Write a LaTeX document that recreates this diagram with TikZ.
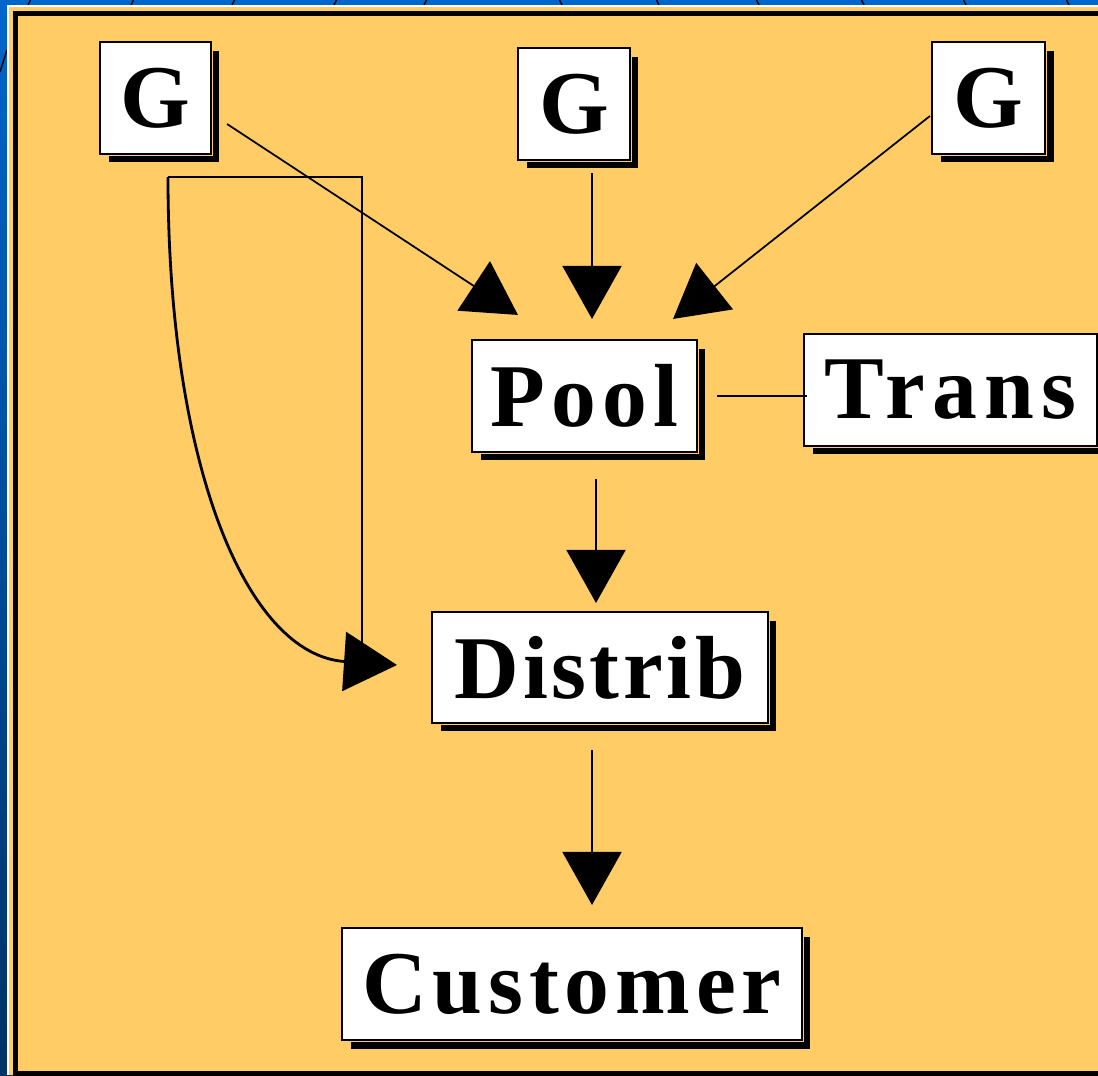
\documentclass[tikz,border=0pt]{standalone}
\usepackage{fontspec}
\setmainfont{Liberation Serif}
\usetikzlibrary{arrows.meta,shadows,calc}
\definecolor{panel}{HTML}{FFCC66}
\definecolor{slideblue}{HTML}{0066CC}
\definecolor{slidedark}{HTML}{003366}

\begin{document}
\begin{tikzpicture}[x=0.02cm, y=-0.02cm,
    box/.style={draw=black, line width=1.2pt, fill=white, inner sep=0pt,
        drop shadow={shadow xshift=0.17cm, shadow yshift=-0.17cm, fill=black, opacity=1},
        preaction={draw=panel, line width=2.4pt},
        minimum height=2.24cm, font=\fontsize{51}{60}\selectfont\bfseries},
    spaced/.style={font=\fontsize{51}{60}\selectfont\bfseries\addfontfeature{LetterSpace=#1}},
    link/.style={line width=1pt},
    arr/.style={-{Triangle[length=1.06cm, width=1.18cm]}, line width=1pt}
]
\useasboundingbox (0,0) rectangle (1098,1075);

\shade[top color=slideblue, bottom color=slidedark] (0,0) rectangle (1098,1075);
\foreach \x in {29,132,233,335,425}
    \draw[line width=0.8pt] (\x+1.5,0) -- (\x-1,5);
\foreach \x in {561,658,758,863,965,1068}
    \draw[line width=0.8pt] (\x-1.5,0) -- (\x+1,5);
\draw[line width=0.8pt] (0,72) -- (7,50);
\fill[white] (7,5) rectangle (1098,1075);
\fill[panel] (9,7) rectangle (1098,1075);
\draw[line width=0.1cm] (15.5,13.5) rectangle (1110,1073);

\node[box, minimum width=2.22cm] (g1) at (155.5,98) {G};
\node[box, minimum width=2.24cm] (g2) at (574,104) {G};
\node[box, minimum width=2.26cm] (g3) at (988.5,98) {G};
\node[box, spaced=7, minimum width=4.5cm] (pool) at (584.5,396) {Pool};
\node[box, spaced=8, minimum width=5.86cm] (trans) at (950.5,390) {Trans};
\node[box, spaced=4, minimum width=6.72cm, minimum height=2.22cm] (distrib) at (600,667.5) {Distrib};
\node[box, spaced=6.5, minimum width=9.2cm] (customer) at (572,984) {Customer};

\coordinate (split) at ($(g1.south)+(12.5,22)$);

\draw[arr] ($(g1.east)+(15,26)$) -- ($(pool.north west)+(47,-24)$);
\draw[arr] ($(g2.south)+(18,12)$) -- ($(pool.north)+(7.5,-20)$);
\draw[arr] ($(g3.west)+(-1,18)$) -- ($(pool.north east)+(-25,-20)$);
\draw[link] ($(pool.east)+(19,0)$) -- ($(trans.west)+(4,6)$);
\draw[arr] ($(pool.south)+(11.5,26)$) -- ($(distrib.north)+(-4,-8)$);
\draw[arr] ($(distrib.south)+(-8,26)$) -- ($(customer.north)+(20,-22)$);
\draw[line width=1.2pt] (split) -| ($(distrib.west)+(-69,-19)$);
\draw[arr, line width=1.6pt] (split) .. controls +(0,290) and +(-150,-10) .. ($(distrib.west)+(-34,-2.5)$);
\end{tikzpicture}
\end{document}
